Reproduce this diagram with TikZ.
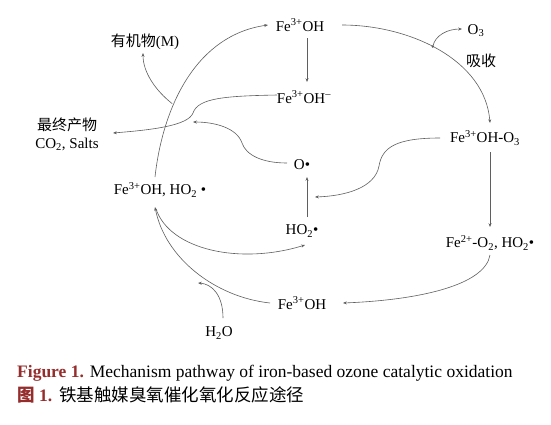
\documentclass[tikz,border=0pt]{standalone}
\usepackage{fontspec}
\setmainfont{Liberation Serif}
\newfontfamily\cjk{Noto Sans CJK SC}
\usetikzlibrary{arrows.meta,calc}
\definecolor{lncol}{RGB}{95,95,95}
\definecolor{capred}{RGB}{150,45,45}
\newcommand{\sps}[1]{\textsuperscript{#1}}
\newcommand{\sbs}[1]{\textsubscript{#1}}
\begin{document}
\begin{tikzpicture}[x=1pt,y=-1pt,
  lbl/.style={inner sep=1pt, font=\fontsize{15}{18}\selectfont},
  arr/.style={draw=lncol, line width=0.6pt, -{Stealth[length=3.8pt,width=3pt]}},
  dotmark/.style={fill=lncol, draw=none}
]
\fill[white] (0,0) rectangle (551,424);
\useasboundingbox (0,0) rectangle (551,424);

% nodes
\node[lbl] (t1) at (300,25) {Fe\sps{3+}OH};
\node[lbl] (o3) at (476,31) {O\sbs{3}};
\node[lbl] (xs) at (481,61) {\cjk 吸收};
\node[lbl] (t2) at (304,97) {Fe\sps{3+}OH\sps{–}};
\node[lbl] (t3) at (485,138) {Fe\sps{3+}OH-O\sbs{3}};
\node[lbl] (ox) at (302,165) {O•};
\node[lbl] (org) at (145,42) {{\cjk 有机物}(M)};
\node[lbl, align=center] (fin) at (67,134) {{\cjk 最终产物}\\CO\sbs{2}, Salts};
\node[lbl] (lft) at (160,190) {Fe\sps{3+}OH, HO\sbs{2} •};
\node[lbl] (ho2) at (302,231) {HO\sbs{2}•};
\node[lbl] (fe2) at (490,243) {Fe\sps{2+}-O\sbs{2}, HO\sbs{2}•};
\node[lbl] (bot) at (302,303) {Fe\sps{3+}OH};
\node[lbl] (h2o) at (219,333) {H\sbs{2}O};

% connectors
\draw[arr] ([shift={(7,13)}]t1.center) -- ([shift={(3,-15)}]t2.center);
\draw[arr] ([shift={(42,0)}]t1.center) .. controls (410,25) and (485,60) .. ([shift={(5,-15)}]t3.center)
  coordinate[pos=0.46] (b1);
\fill[dotmark] (b1) circle (1.3);
\draw[arr] (b1) .. controls (435,35) and (448,29) .. ([shift={(-14,-2)}]o3.center);

\draw[arr] ([shift={(5,14)}]t3.center) -- ([shift={(0,-16)}]fe2.center);
\draw[arr] ([shift={(-45,0)}]t3.center) .. controls (395,138) and (382,148) .. (379,166)
  .. controls (375,188) and (345,196) .. ([shift={(13,32)}]ox.center);
\draw[arr] ([shift={(5,-14)}]ho2.center) -- ([shift={(5,12)}]ox.center);

\draw[arr] ([shift={(-15,-2)}]ox.center) .. controls (262,163) and (246,155) .. (242,143)
  .. controls (237,128) and (215,122) .. ([shift={(-109,-43)}]ox.center);

\draw[arr] ([shift={(-27,-2)}]t2.center) .. controls (225,96) and (198,98) .. (193,113)
  .. controls (188,126) and (150,130) .. ([shift={(46,-1)}]fin.center);

\draw[arr] ([shift={(-5,-13)}]lft.center) .. controls (163,105) and (197,35) .. ([shift={(-32,0)}]t1.center)
  coordinate[pos=0.36] (b2);
\draw[arr] ([shift={(-2,1)}]b2) .. controls (155,90) and (143,72) .. ([shift={(-2,11)}]org.center);

\draw[arr] ([shift={(-32,0)}]bot.center) .. controls (215,297) and (165,258) .. ([shift={(-5,17)}]lft.center);
\draw[arr] ([shift={(-4,19)}]lft.center) .. controls (170,250) and (240,265) .. ([shift={(3,14)}]ho2.center);
\draw[arr] ([shift={(4,-15)}]h2o.center) .. controls (223,295) and (212,284) .. ([shift={(-21,-50)}]h2o.center);
\draw[arr] ([shift={(0,12)}]fe2.center) .. controls (485,285) and (420,300) .. ([shift={(41,0)}]bot.center);

% caption
\node[anchor=west, inner sep=0pt, font=\fontsize{17.5}{20}\selectfont] (cap1) at (17,373)
  {{\color{capred}\bfseries Figure 1.} Mechanism pathway of iron-based ozone catalytic oxidation};
\node[anchor=west, inner sep=0pt, font=\fontsize{17.5}{20}\selectfont] (cap2) at (17,395)
  {{\color{capred}\fontsize{17.5}{20}\cjk\bfseries 图} {\color{capred}\bfseries 1.}\hspace{0.4em}{\fontsize{17.5}{20}\cjk 铁基触媒臭氧催化氧化反应途径}};
\end{tikzpicture}
\end{document}
